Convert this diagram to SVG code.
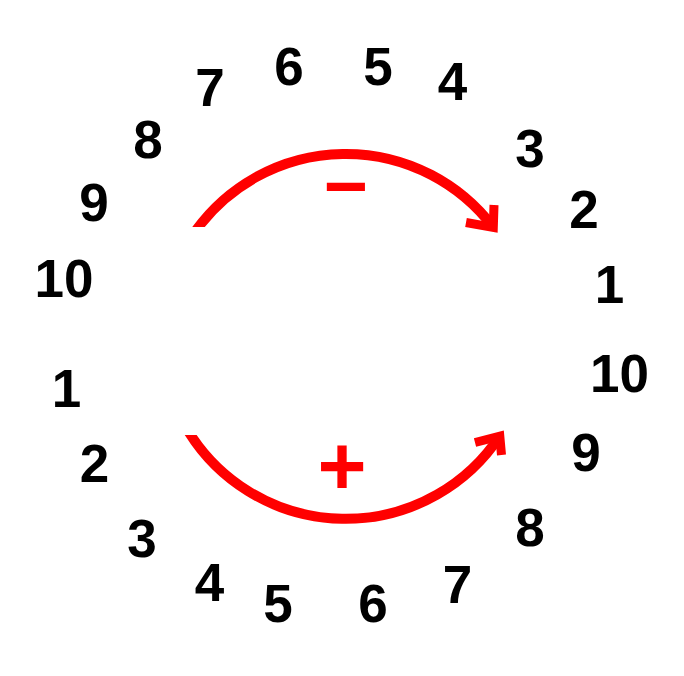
<svg xmlns="http://www.w3.org/2000/svg" width="684" height="676" viewBox="0 0 684 676">
<style>
.n{font-family:"Liberation Sans",Arial,sans-serif;font-weight:bold;font-size:53px;fill:#000;text-anchor:middle}
.s{font-family:"Liberation Sans",Arial,sans-serif;font-weight:bold;fill:#ff0000;text-anchor:middle}
.arc{fill:none;stroke:#ff0000;stroke-width:10}
.head{fill:none;stroke:#ff0000;stroke-width:9;stroke-linejoin:miter;stroke-miterlimit:10}
</style>
<defs>
<clipPath id="clipTop"><rect x="0" y="0" width="300" height="227"/><rect x="300" y="0" width="384" height="676"/></clipPath>
<clipPath id="clipBot"><rect x="0" y="435" width="300" height="241"/><rect x="300" y="0" width="384" height="676"/></clipPath>
</defs>
<rect width="684" height="676" fill="#fff"/>
<g id="top-labels">
<text class="n" x="64" y="297">10</text>
<text class="n" x="94" y="221">9</text>
<text class="n" x="148" y="158">8</text>
<text class="n" x="210" y="106">7</text>
<text class="n" x="289" y="85">6</text>
<text class="n" x="378" y="85">5</text>
<text class="n" x="452.5" y="100">4</text>
<text class="n" x="530" y="167">3</text>
<text class="n" x="584" y="228">2</text>
<text class="n" x="609.5" y="303">1</text>
</g>
<g id="bottom-labels">
<text class="n" x="66.5" y="407">1</text>
<text class="n" x="94.5" y="482">2</text>
<text class="n" x="142" y="557">3</text>
<text class="n" x="209.5" y="600.5">4</text>
<text class="n" x="278" y="622">5</text>
<text class="n" x="373" y="622">6</text>
<text class="n" x="457.5" y="603">7</text>
<text class="n" x="530" y="546">8</text>
<text class="n" x="586" y="471">9</text>
<text class="n" x="619.5" y="392">10</text>
</g>
<g id="connectors">
<g id="minus-arrow">
<path class="arc" clip-path="url(#clipTop)" d="M194.8,232 A185,185 0 0 1 493,227"/>
<polyline class="head" points="466,222.5 493.3,227.5 494,205"/>
</g>
<g id="plus-arrow">
<path class="arc" clip-path="url(#clipBot)" d="M187.5,430 A185,185 0 0 0 499.8,436"/>
<polyline class="head" points="475,442.5 499.8,436.2 501.5,455"/>
</g>
</g>
<g id="signs">
<text class="s" x="346" y="212" font-size="76">−</text>
<text class="s" x="342" y="494.6" font-size="84">+</text>
</g>
</svg>
